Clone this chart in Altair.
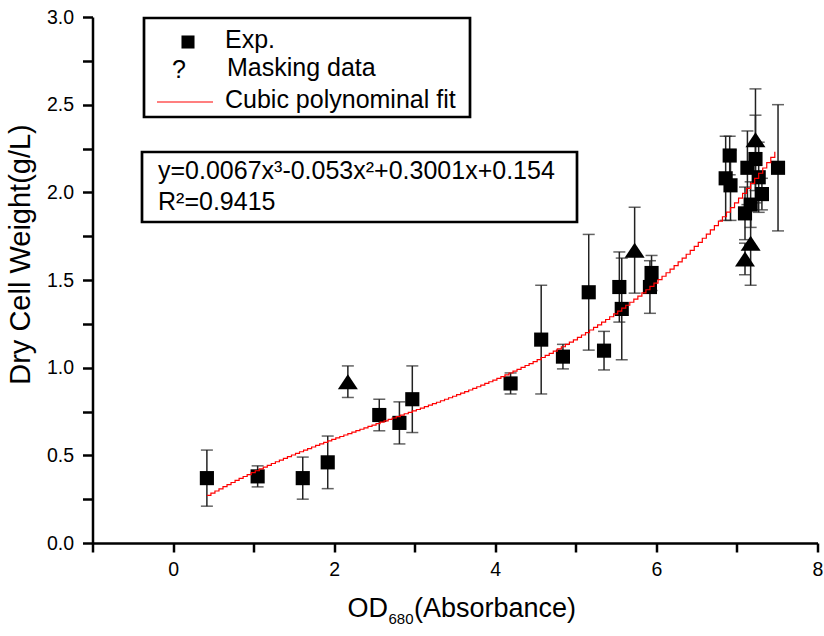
import altair as alt
import numpy as np
import pandas as pd

# Experimental points (square markers): OD680, dry cell weight, error
exp_x = [0.42, 1.05, 1.61, 1.92, 2.56, 2.81, 2.97, 4.19, 4.57, 4.84, 5.16, 5.35,
         5.54, 5.57, 5.92, 5.94, 6.86, 6.91, 6.92, 7.10, 7.13, 7.17, 7.23, 7.27,
         7.31, 7.51]
exp_y = [0.37, 0.38, 0.37, 0.46, 0.73, 0.685, 0.82, 0.91, 1.16, 1.063, 1.43, 1.097,
         1.46, 1.335, 1.46, 1.54, 2.08, 2.21, 2.04, 1.88, 2.14, 1.93, 2.19, 2.086,
         1.99, 2.14]
exp_err = [0.16, 0.06, 0.12, 0.15, 0.09, 0.12, 0.19, 0.06, 0.31, 0.07, 0.33, 0.11,
           0.20, 0.29, 0.15, 0.10, 0.24, 0.11, 0.20, 0.15, 0.21, 0.13, 0.25, 0.20,
           0.09, 0.36]

# Masking data (triangle markers)
mask_x = [2.17, 5.73, 7.10, 7.17, 7.23]
mask_y = [0.92, 1.67, 1.62, 1.71, 2.30]
mask_err = [0.09, 0.245, 0.09, 0.24, 0.29]

# Cubic fit coefficients (x^3, x^2, x, const) and R^2
fit_coef = [0.0067, -0.053, 0.3001, 0.154]
r_squared = 0.9415

legend_labels = ["Exp.", "Masking data", "Cubic polynominal fit"]
legend_masking_symbol = "?"
x_title_parts = ["OD", "680", "(Absorbance)"]
y_title = "Dry Cell Weight(g/L)"

FONT = "Liberation Sans"
W, H = 725, 526

exp_df = pd.DataFrame({"x": exp_x, "y": exp_y, "err": exp_err})
exp_df["lo"] = exp_df["y"] - exp_df["err"]
exp_df["hi"] = exp_df["y"] + exp_df["err"]
mask_df = pd.DataFrame({"x": mask_x, "y": mask_y, "err": mask_err})
mask_df["lo"] = mask_df["y"] - mask_df["err"]
mask_df["hi"] = mask_df["y"] + mask_df["err"]
bars_df = pd.concat([exp_df, mask_df], ignore_index=True)

a, b, c, d = fit_coef
fit_x = np.arange(min(exp_x), max(exp_x) + 1e-9, 0.05)
fit_df = pd.DataFrame({"x": fit_x, "y": a * fit_x**3 + b * fit_x**2 + c * fit_x + d})

eq_text = f"y={a}x\u00b3{b:+}x\u00b2{c:+}x{d:+}"
r2_text = f"R\u00b2={r_squared}"

xs = alt.Scale(domain=[-1, 8], nice=False, zero=False)
ys = alt.Scale(domain=[0, 3], nice=False, zero=False)

x_axis = alt.Axis(
    values=list(range(-1, 9)),
    labelExpr="datum.value % 2 === 0 ? format(datum.value, 'd') : ''",
    title=None, grid=False, labelFontSize=19.5, labelFont=FONT, labelColor="black",
    labelPadding=8, labelFlush=False, labelOverlap=False,
    tickSize=9, tickWidth=2.5, tickColor="black",
    domainColor="black", domainWidth=2.5,
)
y_axis = alt.Axis(
    values=[i * 0.25 for i in range(13)],
    labelExpr="(datum.value * 4) % 2 === 0 ? format(datum.value, '.1f') : ''",
    title=y_title, titleFont=FONT, titleFontSize=29, titleFontWeight="normal",
    titleColor="black", titleX=-72.5, titleY=237, titleAlign="center",
    titleBaseline="middle", titleAngle=-90,
    grid=False, labelFontSize=19.5, labelFont=FONT, labelColor="black",
    labelPadding=9, labelFlush=False, labelOverlap=False,
    tickSize=10, tickWidth=2.5, tickColor="black",
    domainColor="black", domainWidth=2.5,
)

base = alt.Chart(bars_df)
err_rule = base.mark_rule(color="#222", strokeWidth=1.5).encode(
    x=alt.X("x:Q", scale=xs, axis=x_axis),
    y=alt.Y("lo:Q", scale=ys, axis=y_axis),
    y2="hi:Q",
)
cap_lo = base.mark_tick(color="#222", orient="horizontal", size=12, thickness=1.5).encode(
    x=alt.X("x:Q", scale=xs), y=alt.Y("lo:Q", scale=ys))
cap_hi = base.mark_tick(color="#222", orient="horizontal", size=12, thickness=1.5).encode(
    x=alt.X("x:Q", scale=xs), y=alt.Y("hi:Q", scale=ys))

squares = alt.Chart(exp_df).mark_point(shape="square", filled=True, size=200,
                                       color="black", opacity=1).encode(
    x=alt.X("x:Q", scale=xs), y=alt.Y("y:Q", scale=ys))
triangles = alt.Chart(mask_df).mark_point(shape="M0,-0.75L1,0.75L-1,0.75Z", filled=True,
                                          size=400, color="black", opacity=1).encode(
    x=alt.X("x:Q", scale=xs), y=alt.Y("y:Q", scale=ys))

fit_line = alt.Chart(fit_df).mark_line(color="#ff0000", strokeWidth=1.2,
                                       interpolate="step-after").encode(
    x=alt.X("x:Q", scale=xs), y=alt.Y("y:Q", scale=ys))

one = pd.DataFrame({"k": [0]})

# Legend box
leg_box = alt.Chart(one).mark_rect(fill="white", stroke="black", strokeWidth=2.7).encode(
    x=alt.value(51.5), x2=alt.value(377.5), y=alt.value(1), y2=alt.value(100))
leg_sq = alt.Chart(one).mark_point(shape="square", filled=True, size=170, color="black",
                                   opacity=1).encode(x=alt.value(95.5), y=alt.value(25))
leg_q = alt.Chart(pd.DataFrame({"t": [legend_masking_symbol]})).mark_text(
    font=FONT, fontSize=25, color="black", align="center", baseline="alphabetic").encode(
    x=alt.value(86.5), y=alt.value(61), text="t:N")
leg_line = alt.Chart(one).mark_rule(color="#ff0000", strokeWidth=1.2).encode(
    x=alt.value(64.5), x2=alt.value(120.5), y=alt.value(85))
leg_text = alt.Chart(pd.DataFrame({
    "t": legend_labels, "px": [132.5, 134.5, 132.5], "py": [31, 59, 91]})).mark_text(
    font=FONT, fontSize=25, color="black", align="left", baseline="alphabetic").encode(
    x=alt.X("px:Q", scale=None), y=alt.Y("py:Q", scale=None), text="t:N")

# Equation box
eq_box = alt.Chart(one).mark_rect(fill="white", stroke="black", strokeWidth=2.7).encode(
    x=alt.value(49.5), x2=alt.value(484.5), y=alt.value(135), y2=alt.value(205))
eq_lines = alt.Chart(pd.DataFrame({"t": [eq_text, r2_text], "py": [162, 193]})).mark_text(
    font=FONT, fontSize=25, color="black", align="left", baseline="alphabetic").encode(
    x=alt.value(65.5), y=alt.Y("py:Q", scale=None), text="t:N")

# X-axis title with subscript
xt_main = alt.Chart(pd.DataFrame({
    "t": [x_title_parts[0], x_title_parts[2]], "px": [255, 321.5]})).mark_text(
    font=FONT, fontSize=27, color="black", align="left", baseline="alphabetic").encode(
    x=alt.X("px:Q", scale=None), y=alt.value(600), text="t:N")
xt_sub = alt.Chart(pd.DataFrame({"t": [x_title_parts[1]]})).mark_text(
    font=FONT, fontSize=15, color="black", align="left", baseline="alphabetic").encode(
    x=alt.value(296), y=alt.value(607), text="t:N")

chart = alt.layer(
    err_rule, cap_lo, cap_hi, squares, triangles, fit_line,
    leg_box, leg_sq, leg_q, leg_line, leg_text, eq_box, eq_lines, xt_main, xt_sub,
).properties(
    width=W, height=H,
    autosize=alt.AutoSizeParams(type="none"),
    padding={"left": 92.5, "top": 17, "right": 6.5, "bottom": 93},
    background="white",
).configure_view(stroke=None)

chart.save("out.html", embed_options={"renderer": "svg", "actions": False})
